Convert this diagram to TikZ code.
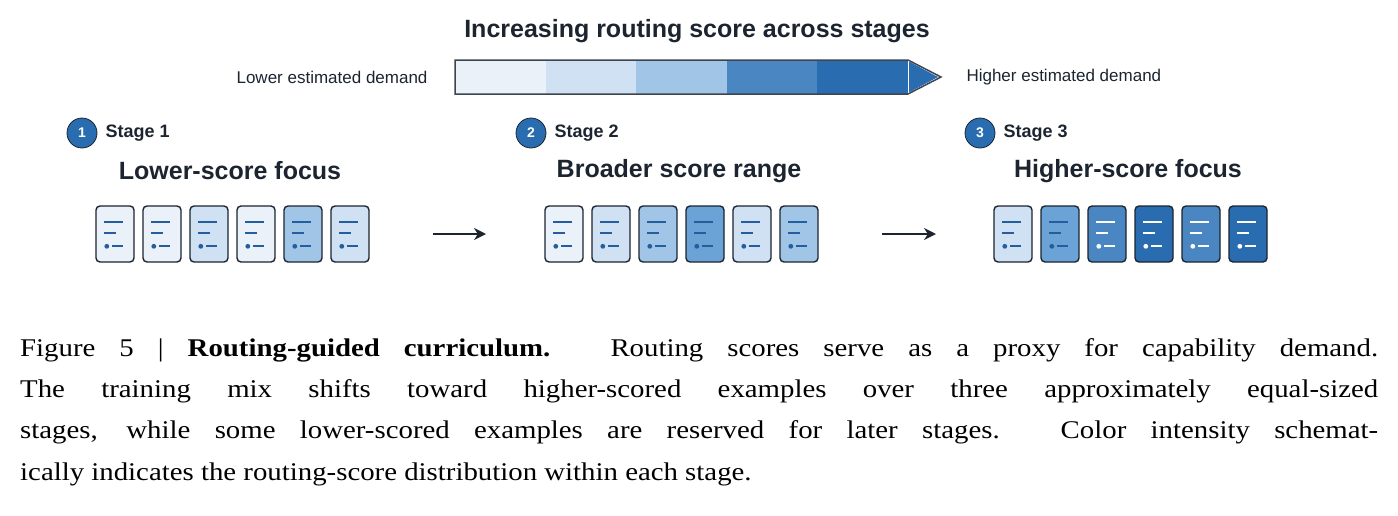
\documentclass[tikz,border=0pt]{standalone}
\usepackage{fontspec}
\setmainfont[FakeStretch=1.13]{Liberation Serif}
\setsansfont{Liberation Sans}
\usetikzlibrary{arrows.meta}
\definecolor{ca}{HTML}{EAF1F9}
\definecolor{cb}{HTML}{CFE1F2}
\definecolor{cc}{HTML}{A0C5E6}
\definecolor{cm}{HTML}{6BA3D6}
\definecolor{cd}{HTML}{4A87C2}
\definecolor{ce}{HTML}{2A6CB0}
\definecolor{ink}{HTML}{1C2430}
\definecolor{mk}{HTML}{245E9E}
\tikzset{
 card/.style={draw=ink,line width=1.4pt,rounded corners=4pt,minimum width=38pt,minimum height=56pt,inner sep=0pt},
 num/.style={circle,fill=ce,draw=ink,line width=0.8pt,minimum size=30pt,inner sep=0pt,text=white,font=\sffamily\bfseries\fontsize{14}{14}\selectfont},
 stg/.style={anchor=west,font=\sffamily\bfseries\fontsize{18}{18}\selectfont,text=ink},
 head/.style={font=\sffamily\bfseries\fontsize{25}{25}\selectfont,text=ink},
 lbl/.style={font=\sffamily\fontsize{17}{17}\selectfont,text=ink},
 flow/.style={-{Stealth[length=12pt,width=12pt]},line width=2.6pt,draw=ink},
}
\newcommand{\mycard}[4]{% name, x, fill, markcolor
 \node[card,fill=#3] (#1) at (#2+19,-234) {};
 \draw[draw=#4,line width=2pt] ([xshift=9pt,yshift=-17pt]#1.north west) -- ++(19pt,0);
 \draw[draw=#4,line width=2pt] ([xshift=9pt,yshift=-28pt]#1.north west) -- ++(12pt,0);
 \fill[fill=#4] ([xshift=11.5pt,yshift=-41pt]#1.north west) circle (2.4pt);
 \draw[draw=#4,line width=2pt] ([xshift=17pt,yshift=-41pt]#1.north west) -- ++(11pt,0);
}
\begin{document}
\begin{tikzpicture}[x=1pt,y=1pt]
\useasboundingbox (0,0) rectangle (1398,-515);
\node[font=\sffamily\bfseries\fontsize{25}{25}\selectfont,text=ink] (title) at (697,-31) {Increasing routing score across stages};
\foreach \c [count=\i from 0] in {ca,cb,cc,cd,ce}{
 \fill[\c] (455+\i*90.6,-60) rectangle (455+\i*90.6+90.6,-94);
}
\draw[ink!85,line width=1.5pt,line join=miter] (455,-60) -- (908,-60) -- (941,-77) -- (908,-94) -- (455,-94) -- cycle;
\fill[ce] (909,-61.5) -- (938,-77) -- (909,-92.5) -- cycle;
\node[lbl,anchor=east] (low) at (431,-77) {Lower estimated demand};
\node[lbl,anchor=west] (high) at (963,-77) {Higher estimated demand};
% stage labels
\node[num] (n1) at (82,-133) {1}; \node[stg] (s1) at (102,-133) {Stage 1};
\node[num] (n2) at (531,-133) {2}; \node[stg] (s2) at (551,-133) {Stage 2};
\node[num] (n3) at (980,-133) {3}; \node[stg] (s3) at (1000,-133) {Stage 3};
\node[head] (h1) at (230,-171) {Lower-score focus};
\node[head] (h2) at (679,-171) {Broader score range};
\node[head] (h3) at (1128,-171) {Higher-score focus};
% cards
\mycard{a1}{96}{ca}{mk}\mycard{a2}{143}{ca}{mk}\mycard{a3}{190}{cb}{mk}
\mycard{a4}{237}{ca}{mk}\mycard{a5}{284}{cc}{mk}\mycard{a6}{331}{cb}{mk}
\mycard{b1}{545}{ca}{mk}\mycard{b2}{592}{cb}{mk}\mycard{b3}{639}{cc}{mk}
\mycard{b4}{686}{cm}{mk}\mycard{b5}{733}{cb}{mk}\mycard{b6}{780}{cc}{mk}
\mycard{c1}{994}{cb}{mk}\mycard{c2}{1041}{cm}{mk}\mycard{c3}{1088}{cd}{white}
\mycard{c4}{1135}{ce}{white}\mycard{c5}{1182}{cd}{white}\mycard{c6}{1229}{ce}{white}
\coordinate (p1) at (433,-234); \coordinate (q1) at (486,-234);
\coordinate (p2) at (882,-234); \coordinate (q2) at (936,-234);
\draw[flow] (p1) -- (q1);
\draw[flow] (p2) -- (q2);
% caption
\node[anchor=north west,inner sep=0pt,text width=1358pt,align=justify,font=\fontsize{25.5}{41.3}\selectfont] (cap) at (20,-338) {Figure 5 | \textbf{Routing-guided curriculum.} Routing scores serve as a proxy for capability demand.\linebreak The training mix shifts toward higher-scored examples over three approximately equal-sized\linebreak stages, while some lower-scored examples are reserved for later stages. Color intensity schemat-\linebreak ically indicates the routing-score distribution within each stage.};
\end{tikzpicture}
\end{document}
